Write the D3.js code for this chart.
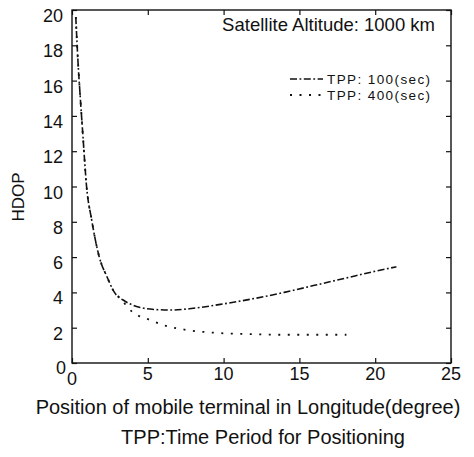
<!DOCTYPE html>
<html>
<head>
<meta charset="utf-8">
<script src="https://cdn.jsdelivr.net/npm/d3@7"></script>
<style>
html,body{margin:0;padding:0;background:#fff;}
svg{display:block;font-family:"Liberation Sans",Arial,Helvetica,sans-serif;}
</style>
</head>
<body>
<svg id="chart" width="474" height="457"></svg>
<script>
// Data
const xTicks = [0, 5, 10, 15, 20, 25];
const yTicks = [0, 2, 4, 6, 8, 10, 12, 14, 16, 18, 20];

const tpp100X = [0.25, 0.4, 0.55, 0.75, 0.95, 1.3, 1.8, 2.3, 2.8, 3.5, 4.5, 5.5, 6.6, 8, 10, 12, 14, 16, 18, 20, 21.4];
const tpp100Y = [19.6, 17, 15, 12.5, 10.1, 8.1, 6.0, 4.9, 4.0, 3.5, 3.15, 3.03, 3.0, 3.1, 3.35, 3.65, 4.0, 4.4, 4.8, 5.2, 5.45];

const tpp400X = [0.25, 0.4, 0.55, 0.75, 0.95, 1.3, 1.8, 2.3, 2.8, 3.2, 3.9, 5.1, 6.3, 7.5, 9.3, 11.9, 14, 16, 18.1];
const tpp400Y = [19.6, 17, 15, 12.5, 10.1, 8.1, 6.0, 4.9, 4.0, 3.65, 2.95, 2.45, 2.08, 1.88, 1.72, 1.63, 1.6, 1.6, 1.6];

const seriesNames = ["TPP: 100(sec)", "TPP: 400(sec)"];
const titleText = "Satellite Altitude: 1000 km";
const xTitle = "Position of mobile terminal in Longitude(degree)";
const noteText = "TPP:Time Period for Positioning";
const yTitle = "HDOP";

const svg = d3.select("#chart");
const L = 72, R = 451, T = 10, B = 363;
const x = d3.scaleLinear().domain([0, 25]).range([L, R]);
const y = d3.scaleLinear().domain([0, 20]).range([B, T]);

const ink = "#111";

// frame
svg.append("rect").attr("x", L).attr("y", T).attr("width", R - L).attr("height", B - T)
  .attr("fill", "none").attr("stroke", ink).attr("stroke-width", 1.4);

// inward ticks on all sides
const tl = 5;
svg.append("g").attr("transform", `translate(0,${B})`)
  .call(d3.axisTop(x).tickValues(xTicks).tickSize(tl).tickFormat(""))
  .call(g => g.select(".domain").remove())
  .selectAll("line").attr("stroke", ink).attr("stroke-width", 1.2);
svg.append("g").attr("transform", `translate(0,${T})`)
  .call(d3.axisBottom(x).tickValues(xTicks).tickSize(tl).tickFormat(""))
  .call(g => g.select(".domain").remove())
  .selectAll("line").attr("stroke", ink).attr("stroke-width", 1.2);
svg.append("g").attr("transform", `translate(${L},0)`)
  .call(d3.axisRight(y).tickValues(yTicks).tickSize(tl).tickFormat(""))
  .call(g => g.select(".domain").remove())
  .selectAll("line").attr("stroke", ink).attr("stroke-width", 1.2);
svg.append("g").attr("transform", `translate(${R},0)`)
  .call(d3.axisLeft(y).tickValues(yTicks).tickSize(tl).tickFormat(""))
  .call(g => g.select(".domain").remove())
  .selectAll("line").attr("stroke", ink).attr("stroke-width", 1.2);

// tick labels
svg.append("g").selectAll("text").data(yTicks).join("text")
  .attr("x", d => d === 0 ? 66 : 63)
  .attr("y", d => y(d) + (d === 0 ? 11 : 12))
  .attr("text-anchor", "end")
  .attr("font-size", 18).attr("fill", ink)
  .text(d => d);
svg.append("g").selectAll("text").data(xTicks).join("text")
  .attr("x", d => x(d))
  .attr("y", d => d === 0 ? 385 : 380)
  .attr("text-anchor", "middle")
  .attr("font-size", 18).attr("fill", ink)
  .text(d => d);

// titles
svg.append("text").attr("x", 248).attr("y", 414).attr("text-anchor", "middle")
  .attr("font-size", 20).attr("fill", ink).text(xTitle);
svg.append("text").attr("x", 263).attr("y", 444).attr("text-anchor", "middle")
  .attr("font-size", 20).attr("fill", ink).text(noteText);
svg.append("text").attr("transform", "translate(24,197) rotate(-90)").attr("text-anchor", "middle")
  .attr("font-size", 17).attr("fill", ink).text(yTitle);
svg.append("text").attr("x", 435).attr("y", 31).attr("text-anchor", "end")
  .attr("font-size", 18.5).attr("fill", ink).text(titleText);

// lines
const line = d3.line().x(d => x(d[0])).y(d => y(d[1])).curve(d3.curveMonotoneX);
const d100 = tpp100X.map((v, i) => [v, tpp100Y[i]]);
const d400 = tpp400X.map((v, i) => [v, tpp400Y[i]]);
const dash100 = "7,2.5,1.8,2.5";
const dash400 = "2,7.5";

svg.append("path").datum(d400).attr("d", line).attr("fill", "none")
  .attr("stroke", ink).attr("stroke-width", 1.8).attr("stroke-dasharray", dash400);
svg.append("path").datum(d100).attr("d", line).attr("fill", "none")
  .attr("stroke", ink).attr("stroke-width", 1.6).attr("stroke-dasharray", dash100);

// legend
const leg = svg.append("g");
const legRows = [{name: seriesNames[0], dash: dash100, w: 1.6, yy: 79}, {name: seriesNames[1], dash: dash400, w: 1.8, yy: 95}];
legRows.forEach(r => {
  leg.append("line").attr("x1", 290).attr("x2", 323).attr("y1", r.yy).attr("y2", r.yy)
    .attr("stroke", ink).attr("stroke-width", r.w).attr("stroke-dasharray", r.dash);
  leg.append("text").attr("x", 327).attr("y", r.yy + 5).attr("font-size", 13.5)
    .attr("letter-spacing", 1.4).attr("fill", ink).text(r.name);
});
</script>
</body>
</html>
